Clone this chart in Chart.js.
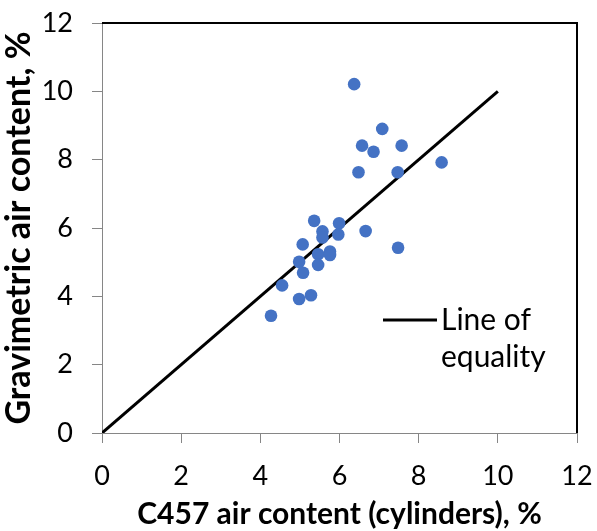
<!DOCTYPE html>
<html>
<head>
<meta charset="utf-8">
<script src="https://cdn.jsdelivr.net/npm/chart.js@4/dist/chart.umd.min.js"></script>
<style>
html,body{margin:0;padding:0;background:#fff;}
#wrap{width:597px;height:531px;}
</style>
</head>
<body>
<div id="wrap"><canvas id="c" width="597" height="531"></canvas></div>
<script>
// Data
const c457Air = [6.37, 7.08, 6.57, 6.86, 7.57, 6.48, 7.47, 8.58, 5.36, 5.99, 5.57, 5.97, 6.66, 5.57, 5.07, 7.48, 5.46, 5.76, 5.76, 4.98, 5.46, 5.08, 4.55, 5.28, 4.98, 4.27];
const gravAir = [10.21, 8.90, 8.41, 8.23, 8.41, 7.63, 7.63, 7.92, 6.21, 6.14, 5.90, 5.81, 5.91, 5.72, 5.52, 5.42, 5.23, 5.31, 5.21, 5.01, 4.92, 4.69, 4.32, 4.03, 3.92, 3.43];
const equalityX = [0, 10];
const equalityY = [0, 10];
const tickValues = [0, 2, 4, 6, 8, 10, 12];
const xTitle = "C457 air content (cylinders), %";
const yTitle = "Gravimetric air content, %";
const legendLines = ["Line of", "equality"];

const scatterPts = c457Air.map((x, i) => ({x: x, y: gravAir[i]}));
const linePts = equalityX.map((x, i) => ({x: x, y: equalityY[i]}));

const FONT = "Lato";
const axisGray = "#868686";

const framePlugin = {
  id: 'frame',
  beforeDatasetsDraw(chart) {
    const {ctx, chartArea: a} = chart;
    ctx.save();
    ctx.strokeStyle = '#000';
    ctx.lineWidth = 2;
    ctx.beginPath();
    ctx.moveTo(a.left, a.top);
    ctx.lineTo(a.right, a.top);
    ctx.lineTo(a.right, a.bottom);
    ctx.stroke();
    ctx.restore();
  },
  afterDraw(chart) {
    const {ctx, chartArea: a} = chart;
    ctx.save();
    const lx = a.left + 281, ly = a.top + 297;
    ctx.strokeStyle = '#000';
    ctx.lineWidth = 3;
    ctx.beginPath();
    ctx.moveTo(lx, ly);
    ctx.lineTo(lx + 54, ly);
    ctx.stroke();
    ctx.fillStyle = '#000';
    ctx.font = "30px " + FONT;
    ctx.textBaseline = 'middle';
    ctx.textAlign = 'left';
    legendLines.forEach((t, i) => ctx.fillText(t, lx + 58, ly + i * 37));
    ctx.restore();
  }
};

new Chart(document.getElementById('c'), {
  type: 'scatter',
  data: {
    datasets: [
      {
        label: 'Data',
        data: scatterPts,
        backgroundColor: '#4472C4',
        borderWidth: 0,
        pointRadius: 6.3,
        pointHoverRadius: 6.3,
        order: 1
      },
      {
        type: 'line',
        label: 'Line of equality',
        data: linePts,
        borderColor: '#000',
        borderWidth: 3,
        pointRadius: 0,
        fill: false,
        order: 2
      }
    ]
  },
  options: {
    responsive: false,
    animation: false,
    layout: {padding: {top: 23, right: 20, left: 0, bottom: 0}},
    plugins: {legend: {display: false}, tooltip: {enabled: false}},
    scales: {
      x: {
        type: 'linear', min: 0, max: 12,
        afterBuildTicks(s) { s.ticks = tickValues.map(v => ({value: v})); },
        afterFit(s) { s.height = 98; s.paddingLeft = 0; s.paddingRight = 0; },
        grid: {display: true, drawOnChartArea: false, drawTicks: true, tickLength: 10, color: axisGray},
        border: {display: true, color: axisGray, width: 1},
        ticks: {color: '#000', font: {family: FONT, size: 27}, padding: 17, maxRotation: 0},
        title: {display: true, text: xTitle, color: '#000', font: {family: FONT, size: 30, weight: 'bold', lineHeight: 1.1}, padding: {top: 0, bottom: 0}}
      },
      y: {
        type: 'linear', min: 0, max: 12,
        afterBuildTicks(s) { s.ticks = tickValues.map(v => ({value: v})); },
        afterFit(s) { s.width = 102; s.paddingTop = 0; s.paddingBottom = 0; },
        grid: {display: true, drawOnChartArea: false, drawTicks: true, tickLength: 10, color: axisGray},
        border: {display: true, color: axisGray, width: 1},
        ticks: {color: '#000', font: {family: FONT, size: 27}, padding: 19},
        title: {display: true, text: yTitle, color: '#000', font: {family: FONT, size: 34, weight: 'bold', lineHeight: 1.1}, padding: {top: 0, bottom: 8}}
      }
    }
  },
  plugins: [framePlugin]
});
</script>
</body>
</html>
